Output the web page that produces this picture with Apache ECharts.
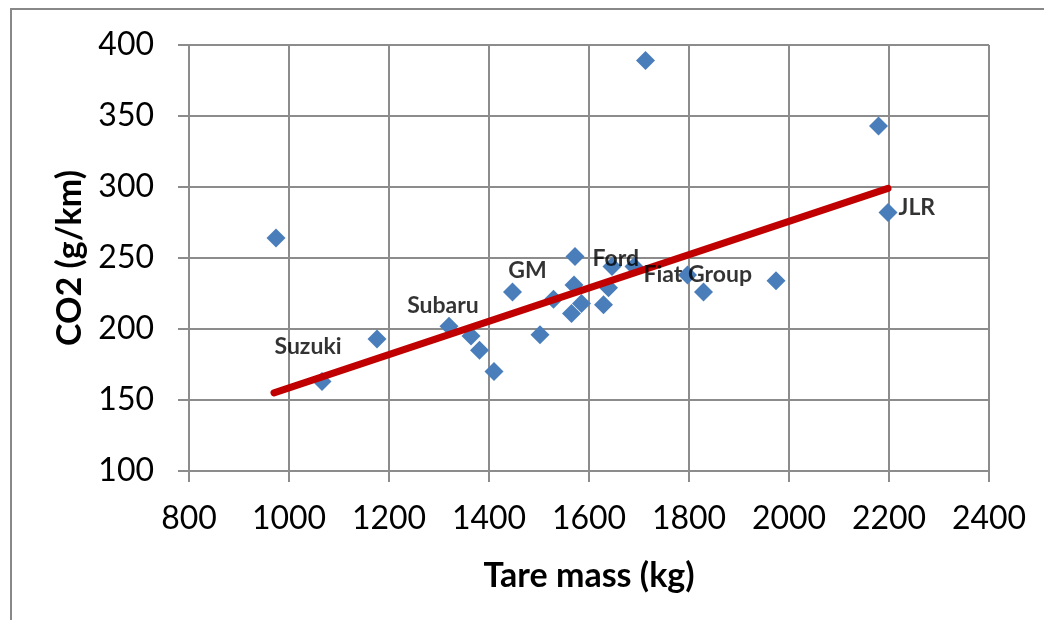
<!DOCTYPE html>
<html>
<head>
<meta charset="utf-8">
<script src="https://cdn.jsdelivr.net/npm/echarts@6/dist/echarts.min.js"></script>
<style>
  html, body { margin: 0; padding: 0; background: #fff; }
  #chart { width: 1044px; height: 620px; }
</style>
</head>
<body>
<div id="chart"></div>
<script>
// tare mass (kg) and CO2 (g/km) per manufacturer
const massKg = [974, 1066, 1176, 1320, 1364, 1381, 1410, 1447, 1502, 1529, 1565, 1570,
  1572, 1585, 1629, 1639, 1646, 1690, 1713, 1797, 1829, 1974, 2179, 2198];
const co2 = [264, 163, 193, 202, 195, 185, 170, 226, 196, 221, 211, 231,
  251, 218, 217, 229, 244, 244, 389, 238, 226, 234, 343, 282];
const makerNames = ['', 'Suzuki', '', 'Subaru', '', '', '', 'GM', '', '', '', '',
  'Ford', '', '', '', '', 'Fiat Group', '', '', '', '', '', 'JLR'];

// linear trend line end points
const trendMass = [970, 2198];
const trendCo2 = [155, 299];

const xTicks = [800, 1000, 1200, 1400, 1600, 1800, 2000, 2200, 2400];
const yTicks = [100, 150, 200, 250, 300, 350, 400];

const gridColor = '#8c8c8c';
const textFont = 'Lato';

// label placement per name (moved by hand in the original)
const labelPlace = {
  'Suzuki': { position: 'inside', offset: [-14, -35] },
  'Subaru': { position: 'inside', offset: [-6, -21] },
  'GM': { position: 'inside', offset: [15, -22] },
  'Ford': { position: 'right', distance: 8, offset: [0, 2] },
  'Fiat Group': { position: 'right', distance: 0, offset: [0, 8] },
  'JLR': { position: 'right', distance: 1, offset: [0, -5] }
};

const points = massKg.map((m, i) => [m, co2[i]]);
const labelled = [];
massKg.forEach((m, i) => {
  if (makerNames[i]) {
    labelled.push({
      value: [m, co2[i]],
      name: makerNames[i],
      label: Object.assign({ show: true }, labelPlace[makerNames[i]])
    });
  }
});

const chart = echarts.init(document.getElementById('chart'));
chart.setOption({
  animation: false,
  grid: { left: 189, right: 55, top: 45, bottom: 149 },
  graphic: [{
    type: 'polyline',
    shape: { points: [[11, 620], [11, 9], [1044, 9]] },
    style: { stroke: '#888', lineWidth: 2, fill: null },
    silent: true
  }],
  xAxis: {
    type: 'value',
    min: xTicks[0],
    max: xTicks[xTicks.length - 1],
    interval: 200,
    name: 'Tare mass (kg)',
    nameLocation: 'middle',
    nameGap: 88,
    nameTextStyle: { fontFamily: textFont, fontSize: 34, fontWeight: 'bold', color: '#000' },
    axisLine: { show: true, lineStyle: { color: gridColor, width: 2 } },
    axisTick: { show: true, inside: false, length: 11, lineStyle: { color: gridColor, width: 2 } },
    axisLabel: { fontFamily: textFont, fontSize: 32, color: '#000', margin: 32, formatter: v => String(v) },
    splitLine: { show: true, lineStyle: { color: gridColor, width: 2 } }
  },
  yAxis: {
    type: 'value',
    min: yTicks[0],
    max: yTicks[yTicks.length - 1],
    interval: 50,
    name: 'CO2 (g/km)',
    nameLocation: 'middle',
    nameGap: 102,
    nameRotate: 90,
    nameTextStyle: { fontFamily: textFont, fontSize: 34, fontWeight: 'bold', color: '#000' },
    axisLine: { show: true, lineStyle: { color: gridColor, width: 2 } },
    axisTick: { show: true, inside: false, length: 11, lineStyle: { color: gridColor, width: 2 } },
    axisLabel: { fontFamily: textFont, fontSize: 32, color: '#000', margin: 35, formatter: v => String(v) },
    splitLine: { show: true, lineStyle: { color: gridColor, width: 2 } }
  },
  series: [
    {
      type: 'scatter',
      z: 2,
      data: points,
      symbol: 'diamond',
      symbolSize: [19, 19],
      itemStyle: { color: '#4a7ebb', opacity: 1 }
    },
    {
      type: 'line',
      z: 3,
      data: trendMass.map((m, i) => [m, trendCo2[i]]),
      showSymbol: false,
      symbol: 'none',
      lineStyle: { color: '#c00000', width: 7, cap: 'round' }
    },
    {
      type: 'scatter',
      z: 4,
      data: labelled,
      symbol: 'diamond',
      symbolSize: 19,
      itemStyle: { color: 'rgba(0,0,0,0)' },
      label: {
        formatter: '{b}',
        fontFamily: textFont,
        fontSize: 23,
        fontWeight: 'bold',
        color: '#000'
      }
    }
  ]
});
</script>
</body>
</html>
